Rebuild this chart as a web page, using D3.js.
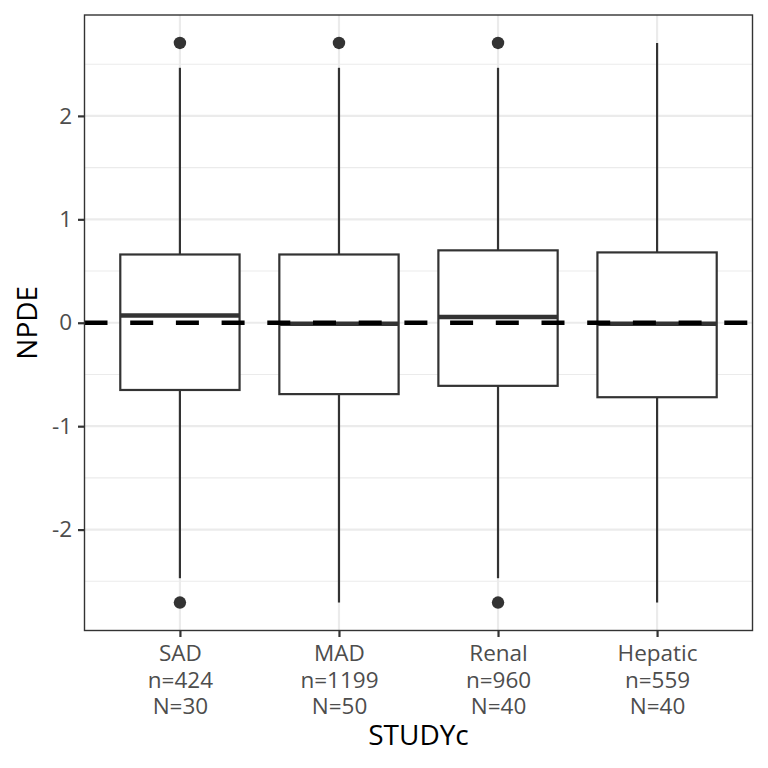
<!DOCTYPE html>
<html>
<head>
<meta charset="utf-8">
<script src="https://cdn.jsdelivr.net/npm/d3@7"></script>
<style>
  body { margin: 0; background: #fff; }
  text { font-family: "Open Sans", "Noto Sans", sans-serif; }
</style>
</head>
<body>
<svg id="chart" width="768" height="768"></svg>
<script>
// box summaries
const studies = ['SAD', 'MAD', 'Renal', 'Hepatic'];
const nObs = [424, 1199, 960, 559];
const nSubj = [30, 50, 40, 40];
const lowerWhisker = [-2.47, -2.705, -2.47, -2.705];
const q1 = [-0.65, -0.69, -0.61, -0.72];
const median = [0.07, -0.01, 0.055, -0.01];
const q3 = [0.66, 0.66, 0.70, 0.68];
const upperWhisker = [2.465, 2.465, 2.465, 2.705];
const outliers = [[2.705, -2.705], [2.705], [2.705, -2.705], []];
const yTicks = [-2, -1, 0, 1, 2];
const yMinor = [-2.5, -1.5, -0.5, 0.5, 1.5, 2.5];

const svg = d3.select('#chart'),
      margin = {top: 15, right: 15.5, bottom: 137.5, left: 84.5},
      width = +svg.attr('width') - margin.left - margin.right,
      height = +svg.attr('height') - margin.top - margin.bottom,
      g = svg.append('g').attr('transform', 'translate(' + margin.left + ',' + margin.top + ')');

const boxes = studies.map((s, i) => ({
  study: s, lo: lowerWhisker[i], q1: q1[i], med: median[i], q3: q3[i],
  hi: upperWhisker[i], out: outliers[i]
}));

// ggplot-like expansion: 5% of range on y, 0.6 units on discrete x
const allVals = boxes.flatMap(b => [b.lo, b.hi].concat(b.out));
const yMin = d3.min(allVals), yMax = d3.max(allVals);
const pad = (yMax - yMin) * 0.05;
const y = d3.scaleLinear().domain([yMin - pad, yMax + pad]).range([height, 0]);

const x = d3.scalePoint().domain(studies).range([0, width]).padding(0.6);
const boxW = x.step() * 0.75;

// grid
g.selectAll('.minor').data(yMinor).enter().append('line')
    .attr('x1', 0).attr('x2', width)
    .attr('y1', d => y(d)).attr('y2', d => y(d))
    .attr('stroke', '#EBEBEB').attr('stroke-width', 1.1);
g.selectAll('.major').data(yTicks).enter().append('line')
    .attr('x1', 0).attr('x2', width)
    .attr('y1', d => y(d)).attr('y2', d => y(d))
    .attr('stroke', '#EBEBEB').attr('stroke-width', 2.2);
g.selectAll('.vmajor').data(studies).enter().append('line')
    .attr('x1', d => x(d)).attr('x2', d => x(d))
    .attr('y1', 0).attr('y2', height)
    .attr('stroke', '#EBEBEB').attr('stroke-width', 2.2);

// boxplots
const bx = g.selectAll('.box').data(boxes).enter().append('g')
    .attr('transform', d => 'translate(' + x(d.study) + ',0)');

bx.append('line')
    .attr('y1', d => y(d.hi)).attr('y2', d => y(d.q3))
    .attr('stroke', '#333333').attr('stroke-width', 2.2);
bx.append('line')
    .attr('y1', d => y(d.q1)).attr('y2', d => y(d.lo))
    .attr('stroke', '#333333').attr('stroke-width', 2.2);
bx.append('rect')
    .attr('x', -boxW / 2).attr('width', boxW)
    .attr('y', d => y(d.q3)).attr('height', d => y(d.q1) - y(d.q3))
    .attr('fill', '#fff').attr('stroke', '#333333').attr('stroke-width', 2.2);
bx.append('line')
    .attr('x1', -boxW / 2).attr('x2', boxW / 2)
    .attr('y1', d => y(d.med)).attr('y2', d => y(d.med))
    .attr('stroke', '#333333').attr('stroke-width', 4.6);
bx.selectAll('circle').data(d => d.out).enter().append('circle')
    .attr('cy', d => y(d)).attr('r', 6.2)
    .attr('fill', '#333333');

// reference line at zero
g.append('line')
    .attr('x1', 0).attr('x2', width)
    .attr('y1', y(0)).attr('y2', y(0))
    .attr('stroke', '#000').attr('stroke-width', 4.6)
    .attr('stroke-dasharray', '23,22.7');

// panel border
g.append('rect')
    .attr('width', width).attr('height', height)
    .attr('fill', 'none').attr('stroke', '#333333').attr('stroke-width', 1.4);

// y axis
const yAxis = g.append('g')
    .call(d3.axisLeft(y).tickValues(yTicks).tickSize(6.5).tickPadding(6)
      .tickFormat(d => String(d)));
yAxis.select('.domain').remove();
yAxis.selectAll('line').attr('stroke', '#333333').attr('stroke-width', 2.2);
yAxis.selectAll('text').attr('fill', '#4D4D4D')
    .style('font-family', '"Open Sans", sans-serif').style('font-size', '22.5px');

// x axis, three-line labels
const xAxis = g.append('g')
    .attr('transform', 'translate(0,' + height + ')')
    .call(d3.axisBottom(x).tickSize(6.5).tickFormat(''));
xAxis.select('.domain').remove();
xAxis.selectAll('line').attr('stroke', '#333333').attr('stroke-width', 2.2);
xAxis.selectAll('.tick').each(function (d, i) {
  const t = d3.select(this).append('text')
      .attr('fill', '#4D4D4D').attr('text-anchor', 'middle')
      .style('font-family', '"Open Sans", sans-serif').style('font-size', '22.5px');
  [d, 'n=' + nObs[i], 'N=' + nSubj[i]].forEach((s, k) => {
    t.append('tspan').attr('x', 0).attr('y', 30.5 + k * 26.7).text(s);
  });
});

// titles
svg.append('text')
    .attr('x', margin.left + width / 2).attr('y', 745)
    .attr('text-anchor', 'middle').attr('fill', '#000')
    .style('font-size', '28px').text('STUDYc');
svg.append('text')
    .attr('transform', 'translate(37,' + (margin.top + height / 2) + ') rotate(-90)')
    .attr('text-anchor', 'middle').attr('fill', '#000')
    .style('font-size', '28px').text('NPDE');
</script>
</body>
</html>
